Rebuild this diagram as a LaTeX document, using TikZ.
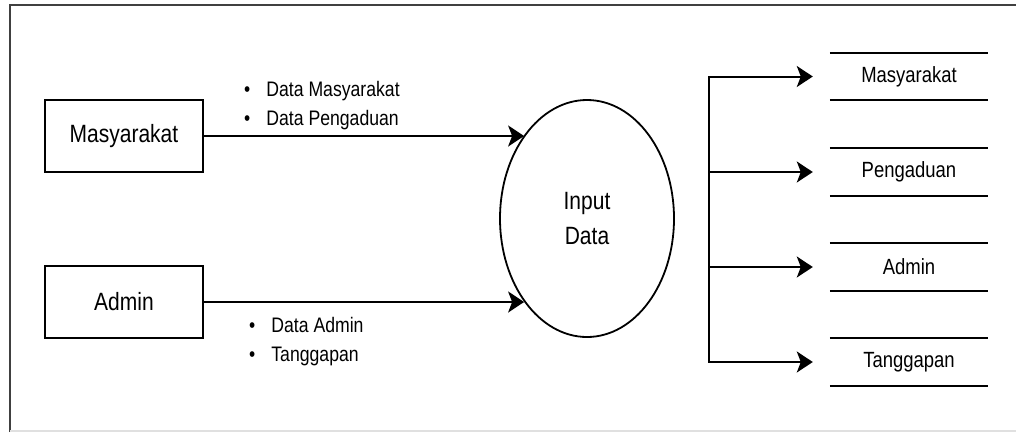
\documentclass[tikz,border=0pt]{standalone}
\usepackage{fontspec}
\setmainfont[FakeStretch=0.84]{Liberation Sans}
\usetikzlibrary{arrows.meta,shapes.geometric}

\begin{document}
\begin{tikzpicture}[x=1pt,y=-1pt,
        entity/.style={draw,line width=2pt,minimum width=158pt,minimum height=72pt,font=\fontsize{25}{30}\selectfont},
        process/.style={ellipse,draw,line width=1.8pt,minimum width=174pt,minimum height=237pt,align=center,font=\fontsize{25}{35}\selectfont},
        store/.style={minimum width=158pt,minimum height=47pt,inner sep=0pt,font=\fontsize{22}{26}\selectfont},
        note/.style={align=left,inner sep=0pt,anchor=west,font=\fontsize{21}{29}\selectfont},
        flow/.style={line width=2pt,-{Stealth[length=16pt,width=21pt,inset=4pt]}}]
        \useasboundingbox (0,0) rectangle (1016,432);

        % frame
        \draw[line width=2.4pt,black!75] (10,432) -- (10,5) -- (1016,5);
        \draw[line width=1.5pt,black!12] (10,431) -- (1016,431);

        \node[entity] (masy) at (124,136) {Masyarakat};
        \node[entity] (admin) at (124,302) {Admin};
        \node[process] (input) at (587,218.5) {Input\\Data};

        \draw[flow] (masy.east) -- (masy.east -| input.127);
        \draw[flow] (admin.east) -- (admin.east -| input.233);

        \node[note] (lblmasy) at (244,106) {\textbullet\hspace{16pt}Data Masyarakat\\\textbullet\hspace{16pt}Data Pengaduan};
        \node[note] (lbladmin) at (249,342) {\textbullet\hspace{16pt}Data Admin\\\textbullet\hspace{16pt}Tanggapan};

        % data stores
        \coordinate (bus) at (709,0);
        \foreach \y/\name/\lbl in {76.5/ds1/Masyarakat,172/ds2/Pengaduan,267/ds3/Admin,362/ds4/Tanggapan}{
            \node[store] (\name) at (909,\y) {\lbl};
            \draw[line width=2.2pt] (\name.north west) -- (\name.north east) (\name.south west) -- (\name.south east);
            \draw[flow,shorten >=17pt] (bus |- \name.west) -- (\name.west);
        }
        \draw[line width=2pt,line cap=rect] (bus |- ds1.west) -- (bus |- ds4.west);
    \end{tikzpicture}
\end{document}
